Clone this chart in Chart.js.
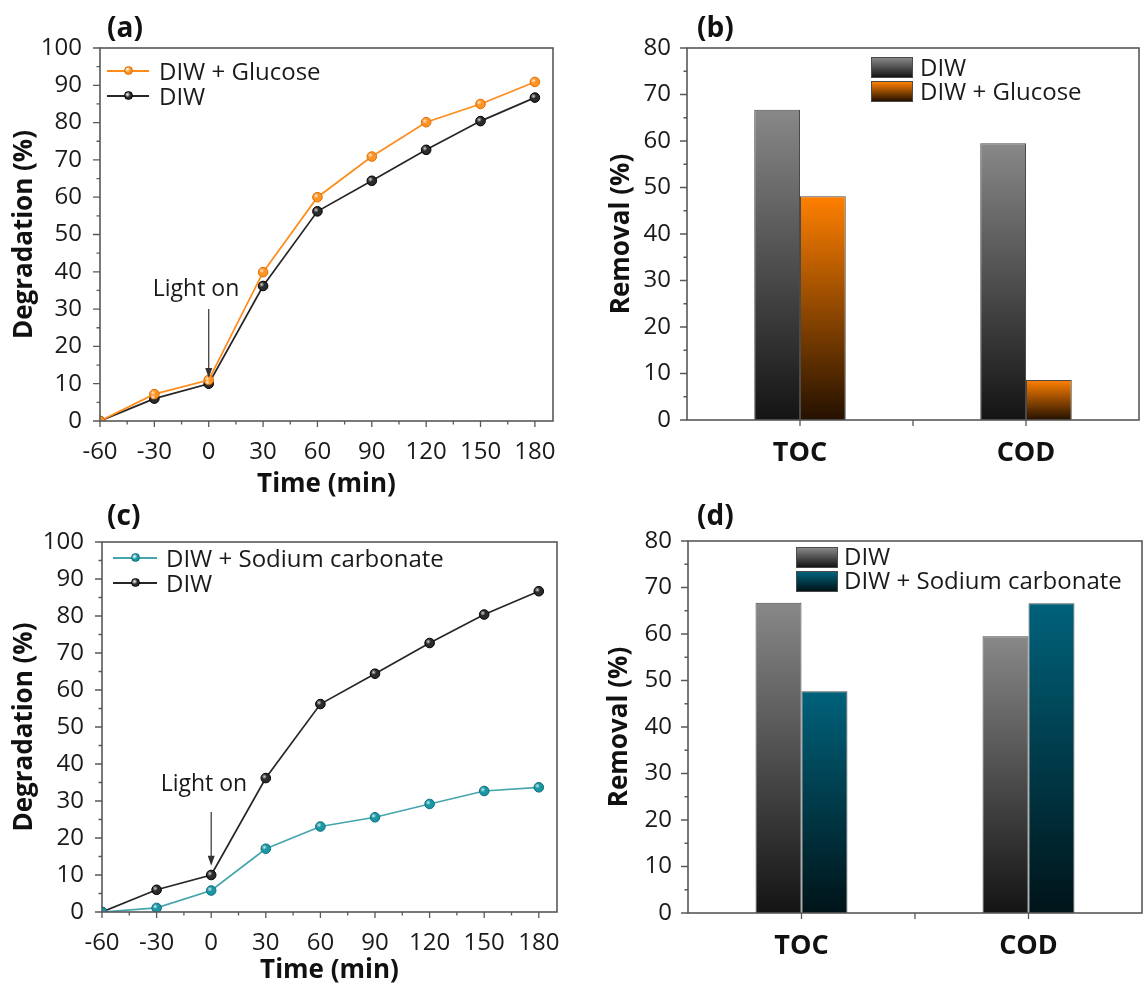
<!DOCTYPE html>
<html lang="en">
<head>
<meta charset="UTF-8">
<title>Degradation and removal, panels (a)-(d)</title>
<script src="https://cdn.jsdelivr.net/npm/chart.js"></script>
<style>
  body { margin: 0; background: #fff; font-family: "Open Sans", sans-serif; color: #1a1a1a; }
  #fig { position: relative; width: 1144px; height: 989px; overflow: hidden; }
  #fig canvas { position: absolute; }
  .tag { position: absolute; font-weight: bold; font-size: 28px; line-height: 28px; color: #111; }
  .legend { position: absolute; font-size: 24px; }
  .legend .row { position: relative; white-space: nowrap; }
  .legend .txt { position: absolute; top: 0; }
  .legend .ln { position: absolute; height: 1.6px; }
  .legend .dot { position: absolute; width: 9px; height: 9px; border-radius: 50%; box-sizing: border-box; }
  .legend .sw { position: absolute; left: 0; width: 42px; height: 21px; box-sizing: border-box; border: 1px solid #4a4a4a; }
</style>
</head>
<body>
<div id="fig">
  <canvas id="chartA" width="572" height="500" style="left:0;top:0"></canvas>
  <canvas id="chartB" width="572" height="500" style="left:572px;top:0"></canvas>
  <canvas id="chartC" width="572" height="499" style="left:0;top:490px"></canvas>
  <canvas id="chartD" width="572" height="499" style="left:572px;top:490px"></canvas>

  <div class="tag" style="left:107px;top:12px">(a)</div>
  <div class="tag" style="left:697px;top:12px">(b)</div>
  <div class="tag" style="left:107px;top:500px">(c)</div>
  <div class="tag" style="left:697px;top:500px">(d)</div>

  <div class="legend" id="legA" style="left:107px;top:58px"></div>
  <div class="legend" id="legB" style="left:871px;top:55px"></div>
  <div class="legend" id="legC" style="left:113px;top:545px"></div>
  <div class="legend" id="legD" style="left:796px;top:544px"></div>
</div>

<script>
  // time axis (min) and degradation (%) (a) and (c)
  const times = [-60, -30, 0, 30, 60, 90, 120, 150, 180];
  const diwDegradation = [0, 6.0, 10.0, 36.2, 56.2, 64.4, 72.7, 80.4, 86.7];
  const glucoseDegradation = [0, 7.2, 11.0, 39.9, 60.0, 70.9, 80.1, 85.0, 90.9];
  const carbonateDegradation = [0, 1.1, 5.8, 17.1, 23.1, 25.6, 29.2, 32.7, 33.7];

  // removal (%) for panels (b) and (d)
  const categories = ['TOC', 'COD'];
  const diwRemoval = [66.7, 59.5];
  const glucoseRemoval = [48.1, 8.6];
  const carbonateRemoval = [47.7, 66.6];

  // labelled ticks
  const timeTicks = [-60, -30, 0, 30, 60, 90, 120, 150, 180];
  const degradationTicks = [0, 10, 20, 30, 40, 50, 60, 70, 80, 90, 100];
  const removalTicks = [0, 10, 20, 30, 40, 50, 60, 70, 80];

  const AXIS = '#585858';
  Chart.defaults.font.family = '"Open Sans", sans-serif';
  Chart.defaults.color = '#1a1a1a';

  // box around the plot + outward tick marks (short ones for unlabelled ticks)
  const boxTicks = {
    id: 'boxTicks',
    afterDraw(chart) {
      const { ctx, chartArea: a } = chart;
      const xs = chart.scales.x, ys = chart.scales.y;
      ctx.save();
      ctx.strokeStyle = AXIS;
      ctx.lineWidth = 1.6;
      ctx.strokeRect(a.left, a.top, a.right - a.left, a.bottom - a.top);
      ctx.lineWidth = 1.3;
      ctx.beginPath();
      ys.ticks.forEach(t => {
        const py = ys.getPixelForValue(t.value);
        const len = t.label === '' ? 3.5 : 7;
        ctx.moveTo(a.left - len, py);
        ctx.lineTo(a.left, py);
      });
      if (xs.type === 'category') {
        const n = xs.ticks.length;
        for (let i = 0; i < n; i++) {
          const px = xs.getPixelForValue(i);
          ctx.moveTo(px, a.bottom);
          ctx.lineTo(px, a.bottom + 6);
          if (i < n - 1) {
            const mid = (px + xs.getPixelForValue(i + 1)) / 2;
            ctx.moveTo(mid, a.bottom);
            ctx.lineTo(mid, a.bottom + 6);
          }
        }
      } else {
        xs.ticks.forEach(t => {
          const px = xs.getPixelForValue(t.value);
          const len = t.label === '' ? 3.5 : 6;
          ctx.moveTo(px, a.bottom);
          ctx.lineTo(px, a.bottom + len);
        });
      }
      ctx.stroke();
      ctx.restore();
    }
  };

  // "Light on" note with arrow, placed in data coordinates
  const lightOn = {
    id: 'lightOn',
    afterDatasetsDraw(chart, args, o) {
      if (!o || o.at === undefined) return;
      const { ctx, scales: { x, y } } = chart;
      ctx.save();
      ctx.font = '23px "Open Sans", sans-serif';
      ctx.fillStyle = '#1a1a1a';
      ctx.textAlign = 'center';
      ctx.textBaseline = 'middle';
      ctx.fillText('Light on', x.getPixelForValue(o.textX), y.getPixelForValue(o.textY));
      const ax = x.getPixelForValue(o.at);
      const y0 = y.getPixelForValue(o.from), y1 = y.getPixelForValue(o.to);
      ctx.strokeStyle = '#333';
      ctx.lineWidth = 1.2;
      ctx.beginPath();
      ctx.moveTo(ax, y0);
      ctx.lineTo(ax, y1 - 8);
      ctx.stroke();
      ctx.fillStyle = '#333';
      ctx.beginPath();
      ctx.moveTo(ax - 3.5, y1 - 10);
      ctx.lineTo(ax + 3.5, y1 - 10);
      ctx.lineTo(ax, y1);
      ctx.closePath();
      ctx.fill();
      ctx.restore();
    }
  };

  // small glossy highlight on each marker
  const pointShine = {
    id: 'pointShine',
    afterDatasetsDraw(chart) {
      const ctx = chart.ctx;
      ctx.save();
      chart.data.datasets.forEach((ds, i) => {
        chart.getDatasetMeta(i).data.forEach(pt => {
          const g = ctx.createRadialGradient(pt.x - 1.4, pt.y - 1.4, 0, pt.x - 1.4, pt.y - 1.4, 2.6);
          g.addColorStop(0, 'rgba(255,255,255,0.8)');
          g.addColorStop(1, 'rgba(255,255,255,0)');
          ctx.fillStyle = g;
          ctx.beginPath();
          ctx.arc(pt.x - 1.4, pt.y - 1.4, 2.6, 0, Math.PI * 2);
          ctx.fill();
        });
      });
      ctx.restore();
    }
  };

  function degradationChart(id, series, o) {
    return new Chart(document.getElementById(id), {
      type: 'line',
      data: {
        datasets: series.map(s => ({
          label: s.label,
          data: times.map((t, i) => ({ x: t, y: s.values[i] })),
          borderColor: s.line,
          borderWidth: 1.7,
          pointRadius: 4.8,
          pointBackgroundColor: s.fill,
          pointBorderColor: s.edge,
          pointBorderWidth: 1,
          tension: 0
        }))
      },
      options: {
        responsive: false,
        animation: false,
        events: [],
        layout: { padding: o.padding },
        plugins: { legend: { display: false }, tooltip: { enabled: false }, lightOn: o.lightOn },
        scales: {
          x: {
            type: 'linear', min: -60, max: 190,
            grid: { display: false }, border: { display: false },
            ticks: {
              stepSize: 15, includeBounds: false, autoSkip: false, maxRotation: 0, padding: 9,
              font: { size: 24 }, color: '#1a1a1a',
              callback: v => timeTicks.includes(v) ? String(v) : ''
            },
            title: { display: true, text: 'Time (min)', color: '#111',
                     font: { size: 26, weight: 'bold' }, padding: { top: 0, bottom: o.xTitlePad } },
            afterFit: s => { s.height = o.xHeight; }
          },
          y: {
            min: 0, max: 100,
            grid: { display: false }, border: { display: false },
            ticks: {
              stepSize: 5, autoSkip: false, padding: 10,
              font: { size: 24 }, color: '#1a1a1a',
              callback: v => degradationTicks.includes(v) ? String(v) : ''
            },
            title: { display: true, text: 'Degradation (%)', color: '#111',
                     font: { size: 26, weight: 'bold' }, padding: { top: 9, bottom: 0 } },
            afterFit: s => { s.width = o.yWidth; }
          }
        }
      },
      plugins: [boxTicks, lightOn, pointShine]
    });
  }

  function barFill(top, bottom) {
    return c => {
      const chart = c.chart;
      if (!chart.chartArea || c.type !== 'data') return top;
      const y = chart.scales.y;
      const g = chart.ctx.createLinearGradient(0, y.getPixelForValue(c.parsed.y), 0, y.getPixelForValue(0));
      g.addColorStop(0, top);
      g.addColorStop(1, bottom);
      return g;
    };
  }

  function removalChart(id, series, o) {
    return new Chart(document.getElementById(id), {
      type: 'bar',
      data: {
        labels: categories,
        datasets: series.map(s => ({
          label: s.label,
          data: s.values,
          backgroundColor: barFill(s.top, s.bottom),
          borderColor: '#4a4a4a',
          borderWidth: 1,
          borderSkipped: 'bottom',
          categoryPercentage: 0.405,
          barPercentage: 1
        }))
      },
      options: {
        responsive: false,
        animation: false,
        events: [],
        layout: { padding: o.padding },
        plugins: { legend: { display: false }, tooltip: { enabled: false } },
        scales: {
          x: {
            grid: { display: false }, border: { display: false },
            ticks: { font: { size: 27, weight: 'bold' }, color: '#111', padding: 9, maxRotation: 0 },
            afterFit: s => { s.height = o.xHeight; }
          },
          y: {
            min: 0, max: 80,
            grid: { display: false }, border: { display: false },
            ticks: {
              stepSize: 5, autoSkip: false, padding: 8,
              font: { size: 24 }, color: '#1a1a1a',
              callback: v => removalTicks.includes(v) ? String(v) : ''
            },
            title: { display: true, text: 'Removal (%)', color: '#111',
                     font: { size: 26, weight: 'bold' }, padding: { top: o.yTitlePad, bottom: 0 } },
            afterFit: s => { s.width = o.yWidth; }
          }
        }
      },
      plugins: [boxTicks]
    });
  }

  function lineLegend(elId, chart, lineW, textLeft) {
    const el = document.getElementById(elId);
    chart.data.datasets.forEach(ds => {
      const row = document.createElement('div');
      row.className = 'row';
      row.style.height = '25px';
      row.style.lineHeight = '25px';
      row.innerHTML =
        '<span class="ln" style="left:0;top:12px;width:' + lineW + 'px;background:' + ds.borderColor + '"></span>' +
        '<span class="dot" style="left:' + (lineW / 2 - 4.5) + 'px;top:8.3px;background:radial-gradient(circle at 35% 35%, #fff 0, ' +
        ds.pointBackgroundColor + ' 45%);border:1px solid ' + ds.pointBorderColor + '"></span>' +
        '<span class="txt" style="left:' + textLeft + 'px"></span>';
      row.querySelector('.txt').textContent = ds.label;
      el.appendChild(row);
    });
  }

  function barLegend(elId, series, swTop, textLeft) {
    const el = document.getElementById(elId);
    series.forEach(s => {
      const row = document.createElement('div');
      row.className = 'row';
      row.style.height = '24px';
      row.style.lineHeight = '24px';
      row.innerHTML =
        '<span class="sw" style="top:' + swTop + 'px;background:linear-gradient(' + s.top + ',' + s.bottom + ')"></span>' +
        '<span class="txt" style="left:' + textLeft + 'px"></span>';
      row.querySelector('.txt').textContent = s.label;
      el.appendChild(row);
    });
  }

  const ORANGE = { line: '#ff8c1a', fill: '#ff9426', edge: '#dd6d00' };
  const BLACK = { line: '#262626', fill: '#2b2b2b', edge: '#000000' };
  const TEAL = { line: '#45a5ad', fill: '#1a97a4', edge: '#0f6f7a' };

  const chartA = degradationChart('chartA', [
    Object.assign({ label: 'DIW + Glucose', values: glucoseDegradation }, ORANGE),
    Object.assign({ label: 'DIW', values: diwDegradation }, BLACK)
  ], {
    padding: { top: 48, right: 19, bottom: 0, left: 0 },
    xHeight: 79, yWidth: 100, xTitlePad: 0,
    lightOn: { textX: -7, textY: 35.3, at: 0, from: 30, to: 11.5 }
  });

  const chartC = degradationChart('chartC', [
    Object.assign({ label: 'DIW + Sodium carbonate', values: carbonateDegradation }, TEAL),
    Object.assign({ label: 'DIW', values: diwDegradation }, BLACK)
  ], {
    padding: { top: 52, right: 15, bottom: 0, left: 0 },
    xHeight: 77, yWidth: 102, xTitlePad: 3,
    lightOn: { textX: -4, textY: 34.5, at: 0, from: 27, to: 12.5 }
  });

  const GRAY_BAR = { top: '#888888', bottom: '#141414' };
  const ORANGE_BAR = { top: '#ff8000', bottom: '#241100' };
  const TEAL_BAR = { top: '#00627b', bottom: '#001419' };

  const removalB = [
    Object.assign({ label: 'DIW', values: diwRemoval }, GRAY_BAR),
    Object.assign({ label: 'DIW + Glucose', values: glucoseRemoval }, ORANGE_BAR)
  ];
  const removalD = [
    Object.assign({ label: 'DIW', values: diwRemoval }, GRAY_BAR),
    Object.assign({ label: 'DIW + Sodium carbonate', values: carbonateRemoval }, TEAL_BAR)
  ];

  removalChart('chartB', removalB, {
    padding: { top: 48, right: 5, bottom: 0, left: 0 },
    xHeight: 80, yWidth: 115, yTitlePad: 34
  });
  removalChart('chartD', removalD, {
    padding: { top: 51, right: 2, bottom: 0, left: 0 },
    xHeight: 76, yWidth: 116, yTitlePad: 32
  });

  lineLegend('legA', chartA, 42, 52);
  lineLegend('legC', chartC, 44, 53);
  barLegend('legB', removalB, 2, 49);
  barLegend('legD', removalD, 3, 48);
</script>
</body>
</html>
